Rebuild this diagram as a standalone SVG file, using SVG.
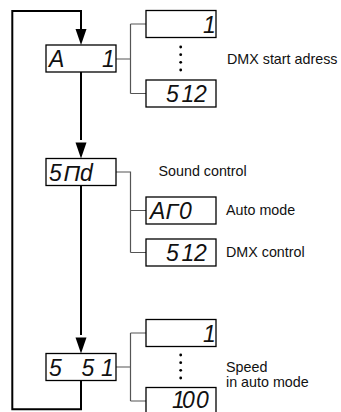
<svg xmlns="http://www.w3.org/2000/svg" width="341" height="412" viewBox="0 0 341 412">
<style>
.box{fill:#fff;stroke:#000;stroke-width:1.3}
.seg{font-family:"Liberation Sans",Arial,sans-serif;font-style:italic;font-size:23px;fill:#111}
.lbl{font-family:"Liberation Sans",Arial,sans-serif;font-size:14.3px;fill:#111}
.flow{fill:none;stroke:#000;stroke-width:2}
.br{fill:none;stroke:#555;stroke-width:1.2}
.dot{fill:#000}
</style>
<g id="connectors">
<path class="flow" d="M81,380.7 V409.3 H12.3 V11 H81 V29"/>
<path class="flow" d="M81,72 V140"/>
<path class="flow" d="M81,185.5 V335"/>
<path d="M75.5,29 H86.5 L81,45 Z" fill="#000"/>
<path d="M75.5,142.5 H86.5 L81,158.5 Z" fill="#000"/>
<path d="M75.5,337.5 H86.5 L81,353.5 Z" fill="#000"/>
<path class="br" d="M116,59 H130.5 M130.5,24 V93.5 M130.5,24 H146 M130.5,93.5 H146"/>
<path class="br" d="M116,172 H130.5 V252.5 M130.5,210.5 H146 M130.5,252.5 H146"/>
<path class="br" d="M116,367 H130.5 M130.5,333 V401 M130.5,333 H146 M130.5,401 H146"/>
</g>
<g id="node-a1">
<rect class="box" x="46" y="45" width="70" height="27"/>
<text class="seg" x="49 102" y="67">A1</text>
</g>
<g id="node-snd">
<rect class="box" x="46" y="158.5" width="70" height="27"/>
<text class="seg" x="49 63.5 80" y="180.5">5Πd</text>
</g>
<g id="node-ss1">
<rect class="box" x="46" y="353.5" width="70" height="27"/>
<text class="seg" x="49 81.5 101" y="375.5">551</text>
</g>
<g id="node-addr-1">
<rect class="box" x="146" y="10.5" width="70" height="27"/>
<text class="seg" x="203" y="32.5">1</text>
</g>
<g id="addr-dots">
<circle class="dot" cx="180.7" cy="47" r="1.4"/>
<circle class="dot" cx="180.7" cy="54.7" r="1.4"/>
<circle class="dot" cx="180.7" cy="62.3" r="1.4"/>
<circle class="dot" cx="180.7" cy="70" r="1.4"/>
</g>
<g id="node-addr-512">
<rect class="box" x="146" y="80" width="70" height="27"/>
<text class="seg" x="166 181.5 194" y="102">512</text>
</g>
<g id="label-dmx-start">
<text class="lbl" x="227" y="63.5">DMX start adress</text>
</g>
<g id="label-sound">
<text class="lbl" x="158.5" y="176">Sound control</text>
</g>
<g id="node-auto">
<rect class="box" x="146" y="197" width="70" height="27"/>
<text class="seg" x="150 165.5 179" y="219">AΓ0</text>
<text class="lbl" x="226" y="215">Auto mode</text>
</g>
<g id="node-dmx512">
<rect class="box" x="146" y="239" width="70" height="27"/>
<text class="seg" x="166 181.5 194" y="261">512</text>
<text class="lbl" x="226" y="257.3">DMX control</text>
</g>
<g id="node-speed-1">
<rect class="box" x="146" y="319.5" width="70" height="27"/>
<text class="seg" x="203" y="341.5">1</text>
</g>
<g id="speed-dots">
<circle class="dot" cx="180.7" cy="355" r="1.4"/>
<circle class="dot" cx="180.7" cy="362.7" r="1.4"/>
<circle class="dot" cx="180.7" cy="370.3" r="1.4"/>
<circle class="dot" cx="180.7" cy="378" r="1.4"/>
</g>
<g id="node-speed-100">
<rect class="box" x="146" y="387.5" width="70" height="27"/>
<text class="seg" x="172 182 196" y="408">100</text>
</g>
<g id="label-speed">
<text class="lbl" x="226" y="371.7">Speed</text>
<text class="lbl" x="226" y="387">in auto mode</text>
</g>
</svg>
